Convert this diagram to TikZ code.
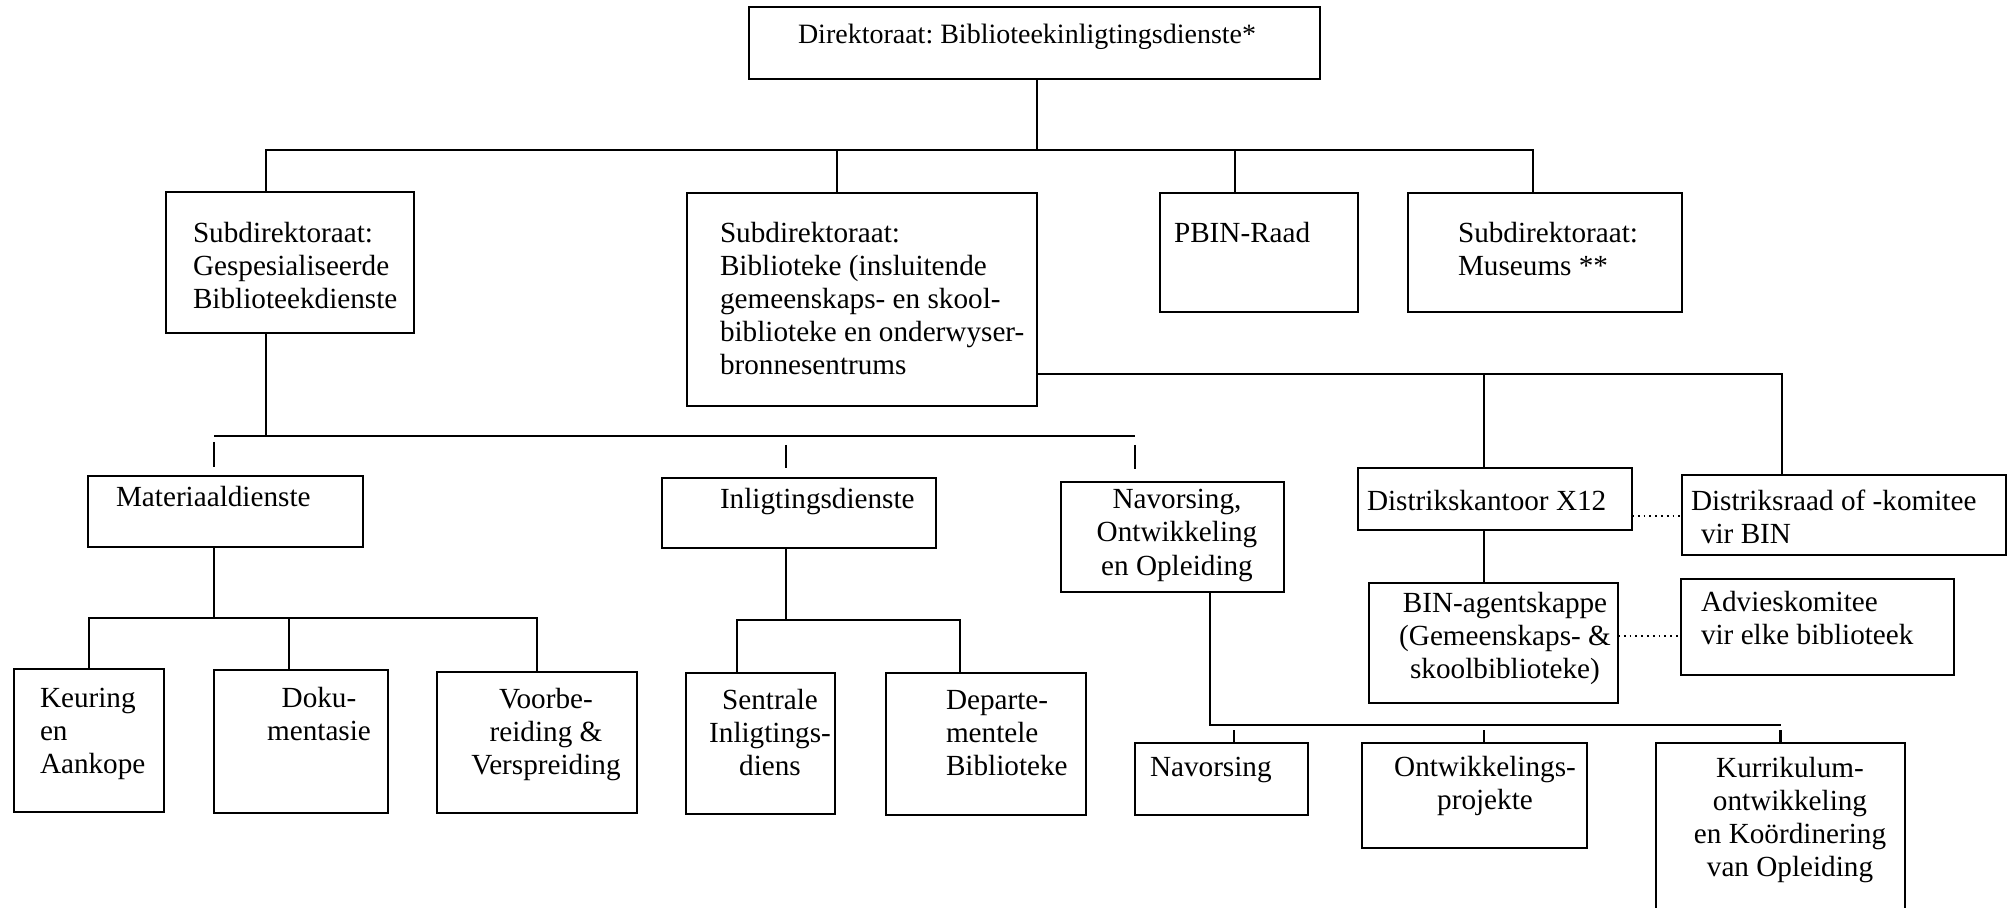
\documentclass[tikz,border=0pt]{standalone}
\usepackage{fontspec}
\setmainfont{Liberation Serif}
\frenchspacing
\newcommand\bx[5]{\node[box, minimum width={(#4-#2)*0.5pt}, minimum height={(#5-#3)*0.5pt}] (#1) at ({(#2+#4)/2},{(#3+#5)/2}) {};}
\newcommand\tl[1]{\begin{tabular}[t]{@{}l@{}}#1\end{tabular}}
\newcommand\tc[1]{\begin{tabular}[t]{@{}c@{}}#1\end{tabular}}
\begin{document}
\begin{tikzpicture}[x=0.5pt,y=-0.5pt,
  box/.style={draw, line width=1.25pt, inner sep=0pt, outer sep=0pt},
  conn/.style={line width=1.05pt},
  gapline/.style={line width=1.05pt},
  dotline/.style={line width=0.9pt, dotted},
  txt/.style={inner sep=0pt, outer sep=0pt, font=\fontsize{14.6}{16.5}\selectfont}]
\useasboundingbox (0,0) rectangle (2011,908);
\fill[white] (0,0) rectangle (2011,908);

% boxes
\bx{top}{749}{7}{1320}{79}
\bx{sub1}{166}{192}{414}{333}
\bx{b2}{687}{193}{1037}{406}
\bx{pbin}{1160}{193}{1358}{312}
\bx{mus}{1408}{193}{1682}{312}
\bx{mat}{88}{476}{363}{547}
\bx{inl}{662}{478}{936}{548}
\bx{nav}{1061}{482}{1284}{592}
\bx{keu}{14}{669}{164}{812}
\bx{dok}{214}{670}{388}{813}
\bx{voo}{437}{672}{637}{813}
\bx{sen}{686}{673}{835}{814}
\bx{dep}{886}{673}{1086}{815}
\bx{nvs}{1135}{743}{1308}{815}
\bx{ont}{1362}{743}{1587}{848}
\bx{kur}{1656}{743}{1905}{930}
\bx{dk}{1358}{468}{1632}{530}
\bx{dr}{1682}{475}{2006}{555}
\bx{bin}{1369}{583}{1618}{703}
\bx{adv}{1681}{579}{1954}{675}

% texts
\node[txt, anchor=base west, font=\fontsize{14}{16.5}\selectfont] (t0) at (798,44) {Direktoraat: Biblioteekinligtingsdienste*};
\node[txt, anchor=base west] (t1) at (193,243) {\tl{Subdirektoraat:\\Gespesialiseerde\\Biblioteekdienste}};
\node[txt, anchor=base west] (t2) at (720,243) {\tl{Subdirektoraat:\\Biblioteke (insluitende\\gemeenskaps- en skool-\\biblioteke en onderwyser-\\bronnesentrums}};
\node[txt, anchor=base west] (t3) at (1174,243) {PBIN-Raad};
\node[txt, anchor=base west] (t4) at (1458,243) {\tl{Subdirektoraat:\\Museums **}};
\node[txt, anchor=base west] (t5) at (116,507) {Materiaaldienste};
\node[txt, anchor=base west] (t6) at (720,509) {Inligtingsdienste};
\node[txt, anchor=base] (t7) at (1177,509) {\tc{Navorsing,\\Ontwikkeling\\en Opleiding}};
\node[txt, anchor=base west] (t8) at (40,707) {\tl{Keuring\\en\\Aankope}};
\node[txt, anchor=base] (t9) at (319,707) {\tc{Doku-\\mentasie}};
\node[txt, anchor=base] (t10) at (546,708) {\tc{Voorbe-\\reiding \&\\Verspreiding}};
\node[txt, anchor=base] (t11) at (770,709) {\tc{Sentrale\\Inligtings-\\diens}};
\node[txt, anchor=base west] (t12) at (946,709) {\tl{Departe-\\mentele\\Biblioteke}};
\node[txt, anchor=base west] (t13) at (1150,776) {Navorsing};
\node[txt, anchor=base] (t14) at (1485,776) {\tc{Ontwikkelings-\\projekte}};
\node[txt, anchor=base] (t15) at (1790,777) {\tc{Kurrikulum-\\ontwikkeling\\en Koördinering\\van Opleiding}};
\node[txt, anchor=base west] (t16) at (1367,510) {Distrikskantoor X12};
\node[txt, anchor=base west] (t17) at (1691,510) {\tl{Distriksraad of -komitee\\\hspace{5pt}vir BIN}};
\node[txt, anchor=base] (t18) at (1505,612) {\tc{BIN-agentskappe\\(Gemeenskaps- \&\\skoolbiblioteke)}};
\node[txt, anchor=base west] (t19) at (1701,611) {\tl{Advieskomitee\\vir elke biblioteek}};

% level 1
\coordinate (bus1) at (1037,150);
\coordinate (d1) at ([xshift=-12pt]sub1.north);
\coordinate (d2) at ([xshift=-12.5pt]b2.north);
\coordinate (d3) at ([xshift=-12pt]pbin.north);
\coordinate (d4) at ([xshift=-6pt]mus.north);
\draw[conn] (top.south -| bus1) -- (bus1);
\draw[conn] (d1) |- (d4 |- bus1) -- (d4);
\draw[conn] (d2) -- (d2 |- bus1);
\draw[conn] (d3) -- (d3 |- bus1);

% b2 to district
\coordinate (e2) at ([yshift=-37.25pt]b2.east);
\coordinate (cdk) at ([xshift=-5.5pt]dk.north);
\coordinate (cdr) at ([xshift=-31pt]dr.north);
\draw[conn] (e2) -| (cdr);
\draw[conn] (cdk |- e2) -- (cdk);
\draw[conn] (cdk |- dk.south) -- (cdk |- bin.north);
\coordinate (e3) at ([yshift=-8.5pt]dk.east);
\draw[dotline] (e3) -- (dr.west |- e3);
\coordinate (e4) at ([yshift=3.5pt]bin.east);
\draw[dotline] (e4) -- (adv.west |- e4);

% sub1 to level 2
\coordinate (bus2) at (0,436);
\coordinate (cm) at ([xshift=-5.75pt]mat.north);
\coordinate (ci) at ([xshift=-6.5pt]inl.north);
\coordinate (cn) at ([xshift=-18.75pt]nav.north);
\draw[conn] (d1 |- sub1.south) -- (d1 |- bus2);
\draw[conn] (cm |- bus2) -- (cn |- bus2);
\draw[gapline, shorten <=3pt, shorten >=4.5pt] (cm |- bus2) -- (cm);
\draw[gapline, shorten <=4.5pt, shorten >=5pt] (ci |- bus2) -- (ci);
\draw[gapline, shorten <=4.5pt, shorten >=6.5pt] (cn |- bus2) -- (cn);

% materiaaldienste
\coordinate (bus3) at (0,618);
\coordinate (cd) at ([xshift=-6pt]dok.north);
\draw[conn] (cm |- mat.south) -- (cm |- bus3);
\draw[conn] (keu.north) |- (voo.north |- bus3) -- (voo.north);
\draw[conn] (cd) -- (cd |- bus3);

% inligtingsdienste
\coordinate (bus5) at (0,620);
\coordinate (cs) at ([xshift=-11.75pt]sen.north);
\coordinate (cp) at ([xshift=-13pt]dep.north);
\draw[conn] (ci |- inl.south) -- (ci |- bus5);
\draw[conn] (cs) |- (cp |- bus5) -- (cp);

% navorsing
\coordinate (bus4) at (0,725);
\coordinate (cnv) at ([xshift=18.75pt]nav.south);
\coordinate (c1) at ([xshift=6.25pt]nvs.north);
\coordinate (c2) at ([xshift=4.75pt]ont.north);
\draw[conn] (cnv) |- (kur.north |- bus4);
\draw[gapline, shorten <=2.5pt] (c1 |- bus4) -- (c1);
\draw[gapline, shorten <=2.5pt] (c2 |- bus4) -- (c2);
\draw[gapline, shorten <=2.5pt] (kur.north |- bus4) -- (kur.north);
\end{tikzpicture}
\end{document}
